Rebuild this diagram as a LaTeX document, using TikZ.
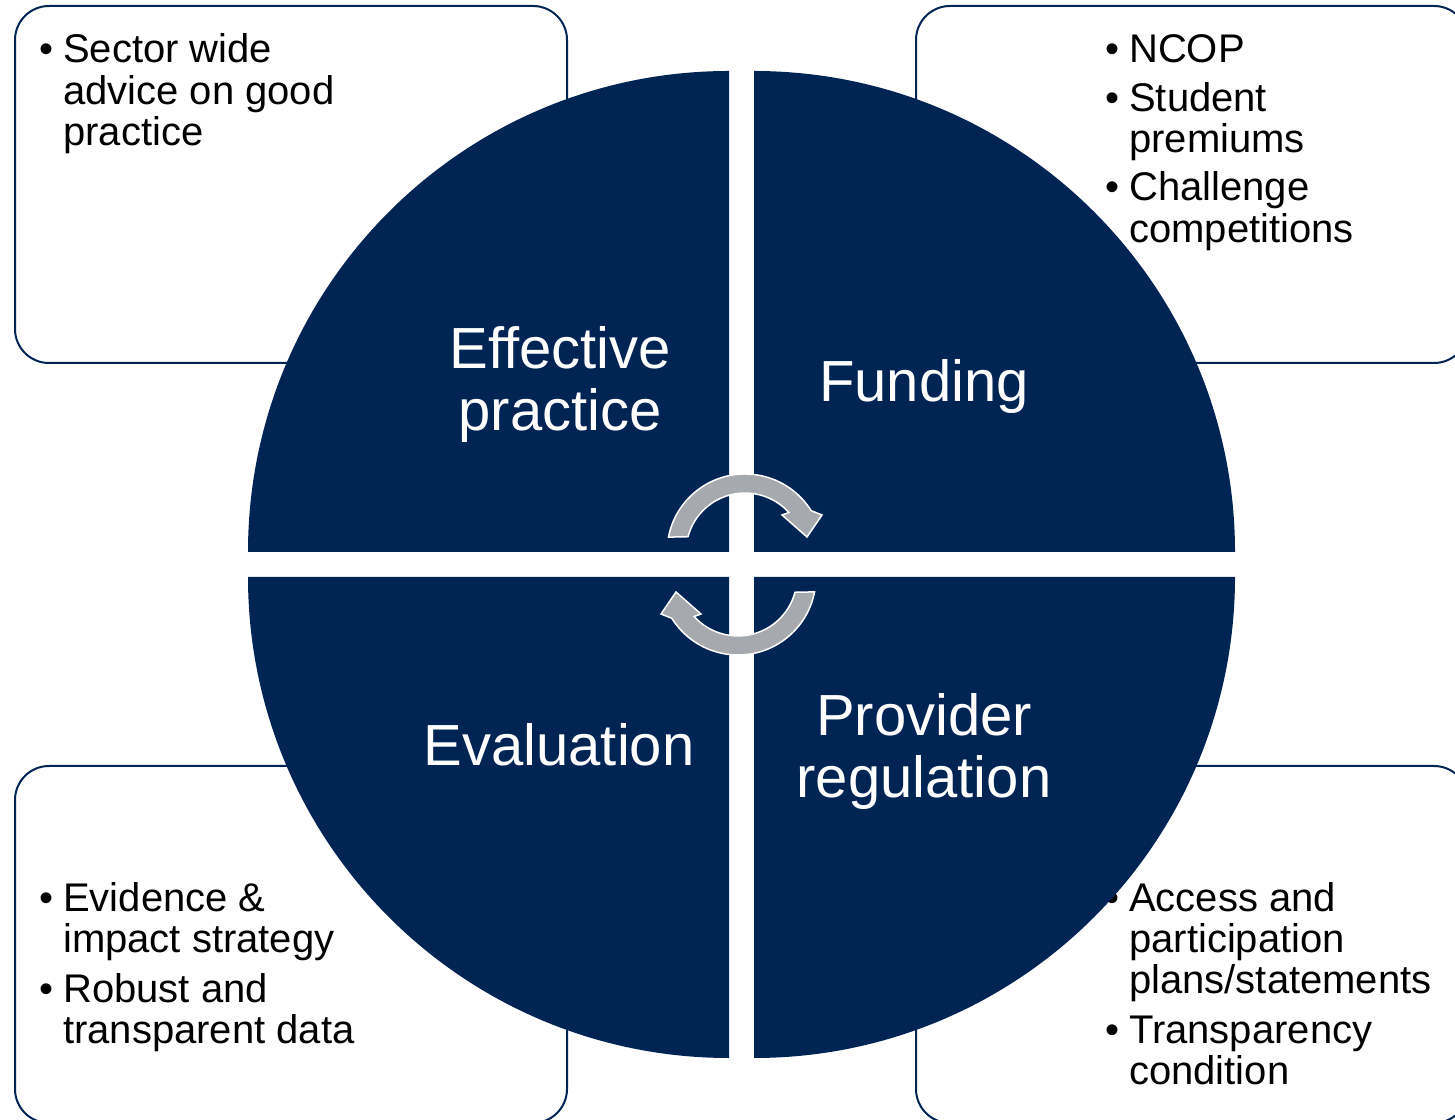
\documentclass[tikz,border=0pt]{standalone}
\usepackage{fontspec}
\setmainfont{Liberation Sans}
\definecolor{navy}{RGB}{0,37,84}
\definecolor{arrowgray}{RGB}{166,169,173}
\begin{document}
\begin{tikzpicture}[x=1pt,y=1pt,
  infobox/.style={draw=navy, line width=2pt, rounded corners=34pt, fill=white, minimum width=552pt, minimum height=357pt, inner sep=0pt},
  quad/.style={fill=navy},
  bigtxt/.style={text=white, font=\fontsize{58}{62}\selectfont, inner sep=0pt, anchor=base},
  bullettxt/.style={text=black, font=\fontsize{40}{41}\selectfont, inner sep=0pt, anchor=base west},
  cyc/.style={fill=arrowgray, draw=white, line width=1.5pt, line join=miter}]
\useasboundingbox (0,0) rectangle (1455,1119);
\clip (0,0) rectangle (1455,1119);
% info boxes
\node[infobox] (tlbox) at (291,934.5) {};
\node[infobox] (trbox) at (1192,934.5) {};
\node[infobox] (blbox) at (291,174.5) {};
\node[infobox] (brbox) at (1192,174.5) {};
% box texts
\node[bullettxt] (tltext) at (39,1056) {\begin{tabular}[t]{@{}l@{\hspace{10pt}}l@{}}\textbullet & Sector wide\\ & advice on good\\ & practice\end{tabular}};
\node[bullettxt] (trtext) at (1105,1056) {\begin{tabular}[t]{@{}l@{\hspace{10pt}}l@{}}\textbullet & NCOP\\[7pt] \textbullet & Student\\ & premiums\\[7pt] \textbullet & Challenge\\ & competitions\end{tabular}};
\node[bullettxt] (bltext) at (39,208) {\begin{tabular}[t]{@{}l@{\hspace{10pt}}l@{}}\textbullet & Evidence \&\\ & impact strategy\\[9pt] \textbullet & Robust and\\ & transparent data\end{tabular}};
\node[bullettxt] (brtext) at (1105,208) {\begin{tabular}[t]{@{}l@{\hspace{10pt}}l@{}}\textbullet & Access and\\ & participation\\ & plans/statements\\[9pt] \textbullet & Transparency\\ & condition\end{tabular}};
% quadrants
\fill[quad] (729,567) -- (248,567) arc[start angle=180,end angle=90,radius=481] -- cycle;
\fill[quad] (754,567) -- (754,1048) arc[start angle=90,end angle=0,radius=481] -- cycle;
\fill[quad] (729,542) -- (248,542) arc[start angle=180,end angle=270,radius=481] -- cycle;
\fill[quad] (754,542) -- (1235,542) arc[start angle=0,end angle=-90,radius=481] -- cycle;
% quadrant labels
\node[bigtxt] (effective) at (560,750) {\begin{tabular}[t]{@{}c@{}}Effective\\practice\end{tabular}};
\node[bigtxt] (funding) at (924,717) {Funding};
\node[bigtxt] (evaluation) at (559,353) {Evaluation};
\node[bigtxt] (provider) at (924,383) {\begin{tabular}[t]{@{}c@{}}Provider\\regulation\end{tabular}};
% cycle arrows
\path[cyc] ([shift={(169:78)}]745,567) arc[start angle=169,end angle=32,radius=78] -- (822,604) -- (807,582) -- (782,604) -- ([shift={(42:59)}]745,567) arc[start angle=42,end angle=165,radius=59] -- cycle;
\begin{scope}[rotate around={180:(741.5,554.5)}]
\path[cyc] ([shift={(169:78)}]745,567) arc[start angle=169,end angle=32,radius=78] -- (822,604) -- (807,582) -- (782,604) -- ([shift={(42:59)}]745,567) arc[start angle=42,end angle=165,radius=59] -- cycle;
\end{scope}
\end{tikzpicture}
\end{document}
